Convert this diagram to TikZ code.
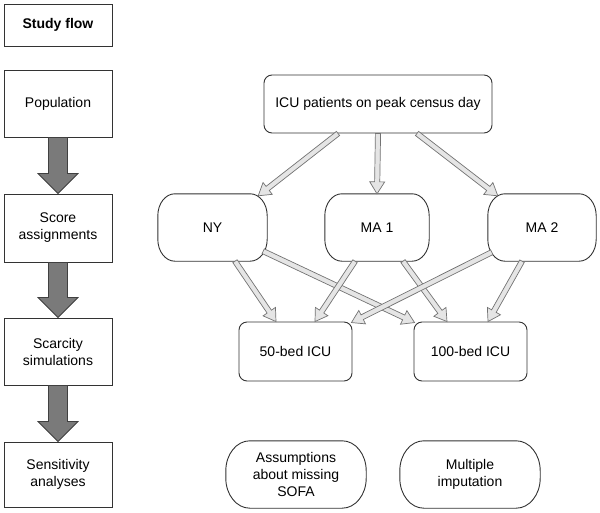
\documentclass[tikz,border=0pt]{standalone}
\usepackage{fontspec}
\setmainfont{Liberation Sans}
\usetikzlibrary{calc}
\newcommand\flexarr[6]{%
  \coordinate (fa-c) at ($(#2)!#5!(#1)$);
  \filldraw[#6] ($(#1)!#3!90:(#2)$) -- ($(fa-c)!#3!90:(#2)$) -- ($(fa-c)!#4!90:(#2)$) -- (#2)
    -- ($(fa-c)!#4!-90:(#2)$) -- ($(fa-c)!#3!-90:(#2)$) -- ($(#1)!#3!-90:(#2)$) -- cycle;
}
\newcommand\thinarr[2]{\flexarr{#1}{#2}{2.6pt}{7.5pt}{12pt}{thinflex}}
\newcommand\fatarr[2]{\flexarr{#1}{#2}{9.5pt}{20pt}{20pt}{fatflex}}
\newcommand\pillshape[3]{%
  \draw[pillline] ($(#1.north west)+(#2,0)$) -- ($(#1.north east)+(-#2,0)$)
    arc[start angle=90, end angle=0, x radius=#2pt, y radius=#3pt]
    -- ($(#1.south east)+(0,-#3)$)
    arc[start angle=0, end angle=-90, x radius=#2pt, y radius=#3pt]
    -- ($(#1.south west)+(#2,0)$)
    arc[start angle=270, end angle=180, x radius=#2pt, y radius=#3pt]
    -- ($(#1.north west)+(0,#3)$)
    arc[start angle=180, end angle=90, x radius=#2pt, y radius=#3pt] -- cycle;
}
\tikzset{
  txt/.style={font=\fontsize{14}{17}\selectfont, align=center, text=black},
  sqbox/.style={txt, draw=black!80, line width=0.9pt, minimum width=108pt, inner sep=0pt},
  rbox/.style={txt, draw=black!80, line width=0.9pt, rounded corners=8pt, inner sep=0pt},
  pill/.style={txt, inner sep=0pt, minimum height=67pt},
  pillline/.style={draw=black!80, line width=0.9pt},
  thinflex/.style={fill=black!10, draw=black!55, line width=0.7pt, line join=miter},
  fatflex/.style={fill=black!52, draw=black!75, line width=0.8pt, line join=miter},
}
\begin{document}
\begin{tikzpicture}[x=1pt, y=-1pt]
\useasboundingbox (0,0) rectangle (600,512);
% left column
\node[sqbox, minimum height=42pt, font=\fontsize{14}{17}\selectfont\bfseries] (study) at (58,25) {Study flow};
\node[sqbox, minimum height=67pt] (pop) at (58,103.5) {Population};
\node[sqbox, minimum height=68pt] (score) at (58,228) {Score\\assignments};
\node[sqbox, minimum height=67pt] (scar) at (58,351.5) {Scarcity\\simulations};
\node[sqbox, minimum height=65pt] (sens) at (58,474.5) {Sensitivity\\analyses};
\fatarr{pop.south}{score.north}
\fatarr{score.south}{scar.north}
\fatarr{scar.south}{sens.north}
% right side
\node[rbox, minimum width=228pt, minimum height=58pt] (icu) at (378,104) {ICU patients on peak census day};
\node[pill, minimum width=109pt] (ny) at (212.5,227.5) {NY};
\node[pill, minimum width=104pt] (ma1) at (377,227.5) {MA 1};
\node[pill, minimum width=108pt] (ma2) at (542,227.5) {MA 2};
\node[rbox, minimum width=113pt, minimum height=59pt] (b50) at (295.5,351.5) {50-bed ICU};
\node[rbox, minimum width=113pt, minimum height=59pt] (b100) at (470.5,351.5) {100-bed ICU};
\node[pill, minimum width=140pt] (assum) at (296,474.5) {Assumptions\\about missing\\SOFA};
\node[pill, minimum width=140pt] (multi) at (470,474.5) {Multiple\\imputation};
\pillshape{ny}{17}{22}
\pillshape{ma1}{17}{22}
\pillshape{ma2}{17}{22}
\pillshape{assum}{24}{30}
\pillshape{multi}{24}{30}
% connector end points
\coordinate (i1) at ($(icu.south)+(-40,0)$);
\coordinate (i3) at ($(icu.south)+(39,0)$);
\coordinate (nyt) at ($(ny.north east)+(-9,2)$);
\coordinate (ma2t) at ($(ma2.north west)+(10,2)$);
\coordinate (nyb1) at ($(ny.south)+(22.5,0)$);
\coordinate (nyb2) at ($(ny.south east)+(-4,-10)$);
\coordinate (mab1) at ($(ma1.south)+(-22,0)$);
\coordinate (mab2) at ($(ma1.south)+(26,0)$);
\coordinate (mcb1) at ($(ma2.south west)+(4,-9)$);
\coordinate (mcb2) at ($(ma2.south)+(-20,0)$);
\coordinate (f1) at ($(b50.north)+(-19.5,0)$);
\coordinate (f2) at ($(b50.north)+(19.5,0)$);
\coordinate (f3) at ($(b50.north east)+(-1,1)$);
\coordinate (h1) at ($(b100.north west)+(1,1)$);
\coordinate (h2) at ($(b100.north)+(-23.5,0)$);
\coordinate (h3) at ($(b100.north)+(17.5,0)$);
\thinarr{i1}{nyt}
\thinarr{icu.south}{ma1.north}
\thinarr{i3}{ma2t}
\thinarr{nyb1}{f1}
\thinarr{nyb2}{h1}
\thinarr{mab1}{f2}
\thinarr{mab2}{h2}
\thinarr{mcb1}{f3}
\thinarr{mcb2}{h3}
\end{tikzpicture}
\end{document}
